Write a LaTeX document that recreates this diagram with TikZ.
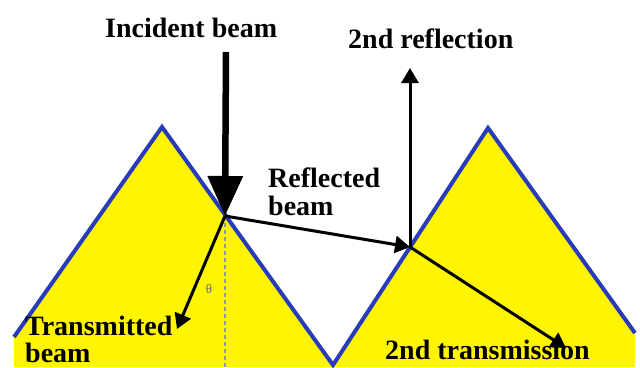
\documentclass[tikz,border=0pt]{standalone}
\usepackage{fontspec}
\setmainfont{Liberation Serif}
\usetikzlibrary{arrows.meta}
\definecolor{prismyellow}{RGB}{255,245,0}
\definecolor{edgeblue}{RGB}{40,60,185}
\definecolor{normalgray}{RGB}{140,150,170}
\definecolor{thetagray}{RGB}{90,105,135}
\begin{document}
\begin{tikzpicture}[x=1pt,y=-1pt,
  lbl/.style={font=\bfseries\fontsize{28}{28}\selectfont, text=black, inner sep=0pt, anchor=base west},
  beam/.style={line width=3pt, -{Triangle[width=17pt,length=15pt]}},
  bigbeam/.style={line width=6.5pt, -{Triangle[width=34pt,length=40pt]}},
  surface/.style={draw=edgeblue, line width=4pt, line join=miter}]
\useasboundingbox (0,0) rectangle (640,367);
% prisms
\fill[prismyellow] (14,367) -- (14,335) -- (162,127) -- (333,365) -- (488,128) -- (635,333) -- (635,367) -- cycle;
\draw[surface] (14,337) -- (162,127) -- (333,365) -- (488,128) -- (635,333);
% points
\coordinate (inTop) at (226,52);
\coordinate (P1) at (225,216);
\coordinate (P2) at (410,247);
\coordinate (T1) at (177,329);
\coordinate (R2) at (410,68);
\coordinate (T2) at (566,348);
\coordinate (nBot) at (225,367);
% normal
\draw[normalgray, line width=1.2pt, dash pattern=on 4pt off 3pt] (P1) -- (nBot);
\node[text=thetagray, font=\fontsize{13}{13}\selectfont, inner sep=0pt] (theta) at (209,289) {θ};
% beams
\draw[bigbeam] (inTop) -- (P1);
\draw[beam] (P1) -- (P2);
\draw[beam] (P1) -- (T1);
\draw[beam] (P2) -- (R2);
\draw[beam] (P2) -- (T2);
% labels
\node[lbl] (inc) at (105,37) {Incident beam};
\node[lbl] (ref2) at (348,48) {2nd reflection};
\node[lbl] (refl1) at (268,187) {Reflected};
\node[lbl] (refl2) at (268,215) {beam};
\node[lbl] (tr1) at (25,335) {Transmitted};
\node[lbl] (tr2) at (25,362) {beam};
\node[lbl] (tr2nd) at (385,359) {2nd transmission};
\end{tikzpicture}
\end{document}
